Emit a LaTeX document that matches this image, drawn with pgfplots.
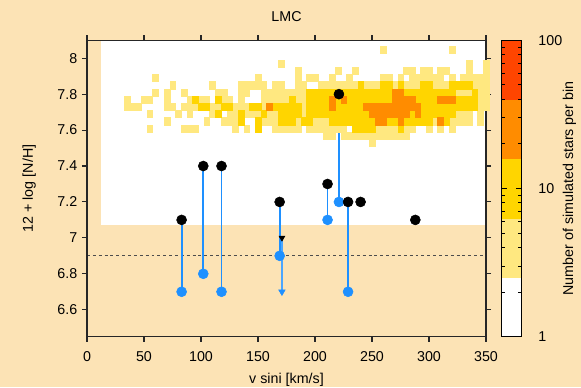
\documentclass[border=0pt]{standalone}
\usepackage{fontspec}
\setmainfont{Liberation Sans}
\usepackage{pgfplots}
\pgfplotsset{compat=1.18}
\definecolor{bgw}{RGB}{252,227,181}
\definecolor{cL}{RGB}{255,232,128}
\definecolor{cG}{RGB}{255,213,0}
\definecolor{cO}{RGB}{255,140,0}
\definecolor{cR}{RGB}{255,69,0}
\definecolor{dblue}{RGB}{30,144,255}
\newcommand{\fs}{\fontsize{10.7}{12.8}\selectfont}
\begin{document}
\begin{tikzpicture}
\fill[bgw] (-65.25pt,-37.75pt) rectangle (370.5pt,252.5pt);
\begin{axis}[
  scale only axis, width=299.25pt, height=222.3pt,
  xmin=0, xmax=350, ymin=6.45, ymax=8.1,
  xtick={0,50,100,150,200,250,300,350},
  xticklabels={0,50,100,150,200,250,300,350},
  ytick={6.6,6.8,7,7.2,7.4,7.6,7.8,8},
  yticklabels={6.6,6.8,7,7.2,7.4,7.6,7.8,8},
  /pgf/number format/assume math mode=true,
  tick align=outside, major tick length=3.75pt,
  every tick/.style={black!85, line width=0.8pt},
  axis line style={black!85, line width=1pt},
  axis background/.style={fill=bgw},
  axis on top,
  tick label style={font=\fs},
  xticklabel style={yshift=-3.5pt},
  label style={font=\fs},
  title={LMC},
  title style={font=\fs, at={(axis description cs:0.5,1.052)}, anchor=center},
  xlabel={v sini [km/s]},
  xlabel style={at={(axis description cs:0.5,-0.145)}, anchor=center},
  ylabel={12 + log [N/H]},
  ylabel style={at={(axis description cs:-0.145,0.5)}, anchor=center},
  colormap={lmc}{color(0)=(white) color(0.4)=(cL) color(0.8)=(cG) color(1.2)=(cO) color(1.6)=(cR) color(2)=(cR)},
  colormap access=piecewise constant,
  point meta min=0, point meta max=2,
  colorbar,
  colorbar style={
    at={(parent axis.north east)}, anchor=north west, xshift=3pt,
    scale only axis, width=15pt, height=222.3pt,
    ytick={0,1,2}, yticklabels={1,10,100},
    minor ytick={0.30103,0.47712,0.60206,0.69897,0.77815,0.84510,0.90309,0.95424,1.30103,1.47712,1.60206,1.69897,1.77815,1.84510,1.90309,1.95424},
    tick align=inside,
    ytick pos=both,
    yticklabel pos=right,
    major tick length=4pt, minor tick length=2.8pt,
    every tick/.style={black, line width=0.6pt},
    axis line style={black, line width=1pt},
    yticklabel style={font=\fs, xshift=9.25pt, anchor=west},
    ylabel={Number of simulated stars per bin},
    every axis y label/.style={at={(axis description cs:3.4,0.5)}, rotate=90, anchor=center, font=\fs},
  },
]
% histogram domain (white)
\addplot[fill=white, draw=none, forget plot] coordinates {(12.5,7.07) (360,7.07) (360,8.3) (12.5,8.3)} -- cycle;
% light yellow cells
\addplot[only marks, mark=square*, mark size=2.14pt, mark options={draw=cL, fill=cL, line width=0.15pt, yscale=1.2606}] coordinates {
(260,8.05) (320,8.05)
(170,7.97) (335,7.97) (350,7.97)
(185,7.93) (220,7.93) (235,7.93) (280,7.93) (285,7.93) (295,7.93) (300,7.93) (310,7.93) (315,7.93) (335,7.93) (350,7.93)
(60,7.89) (150,7.89) (185,7.89) (195,7.89) (200,7.89) (215,7.89) (230,7.89) (260,7.89) (265,7.89) (275,7.89) (285,7.89) (290,7.89) (295,7.89) (300,7.89) (305,7.89) (310,7.89) (320,7.89) (330,7.89) (335,7.89) (340,7.89) (345,7.89) (350,7.89)
(75,7.85) (110,7.85) (135,7.85) (140,7.85) (145,7.85) (150,7.85) (155,7.85) (165,7.85) (170,7.85) (185,7.85) (190,7.85) (205,7.85) (210,7.85) (215,7.85) (220,7.85) (225,7.85) (230,7.85) (235,7.85) (245,7.85) (250,7.85) (255,7.85) (270,7.85) (280,7.85) (285,7.85) (290,7.85) (305,7.85) (310,7.85) (315,7.85) (340,7.85) (345,7.85) (350,7.85)
(60,7.81) (70,7.81) (85,7.81) (115,7.81) (120,7.81) (135,7.81) (140,7.81) (155,7.81) (160,7.81) (165,7.81) (170,7.81) (175,7.81) (180,7.81) (185,7.81) (190,7.81) (325,7.81) (330,7.81) (335,7.81) (345,7.81) (350,7.81)
(35,7.77) (50,7.77) (55,7.77) (70,7.77) (90,7.77) (100,7.77) (105,7.77) (120,7.77) (125,7.77) (135,7.77) (155,7.77) (160,7.77) (165,7.77) (170,7.77) (175,7.77) (185,7.77) (190,7.77) (345,7.77) (350,7.77)
(35,7.73) (40,7.73) (45,7.73) (70,7.73) (75,7.73) (85,7.73) (90,7.73) (95,7.73) (110,7.73) (115,7.73) (130,7.73) (135,7.73) (140,7.73) (155,7.73) (190,7.73) (345,7.73) (350,7.73)
(55,7.69) (80,7.69) (90,7.69) (110,7.69) (125,7.69) (130,7.69) (140,7.69) (145,7.69) (150,7.69) (160,7.69) (165,7.69) (190,7.69) (325,7.69) (330,7.69) (335,7.69) (345,7.69)
(70,7.65) (105,7.65) (120,7.65) (125,7.65) (130,7.65) (155,7.65) (160,7.65) (165,7.65) (185,7.65) (200,7.65) (205,7.65) (210,7.65) (305,7.65) (320,7.65) (325,7.65) (330,7.65) (335,7.65) (345,7.65)
(55,7.61) (85,7.61) (90,7.61) (95,7.61) (130,7.61) (140,7.61) (165,7.61) (170,7.61) (175,7.61) (180,7.61) (185,7.61) (195,7.61) (200,7.61) (205,7.61) (210,7.61) (215,7.61) (220,7.61) (225,7.61) (255,7.61) (260,7.61) (265,7.61) (270,7.61) (280,7.61) (285,7.61) (300,7.61) (310,7.61) (320,7.61)
(210,7.57) (215,7.57) (225,7.57) (230,7.57) (235,7.57) (240,7.57) (245,7.57) (250,7.57) (255,7.57) (260,7.57) (265,7.57) (270,7.57) (275,7.57) (280,7.57)
(250,7.53)
};
% gold cells
\addplot[only marks, mark=square*, mark size=2.14pt, mark options={draw=cG, fill=cG, line width=0.15pt, yscale=1.2606}] coordinates {
(240,7.85) (260,7.85) (265,7.85) (275,7.85) (295,7.85) (300,7.85) (320,7.85) (325,7.85) (330,7.85) (335,7.85)
(195,7.81) (200,7.81) (205,7.81) (210,7.81) (215,7.81) (220,7.81) (225,7.81) (230,7.81) (235,7.81) (240,7.81) (245,7.81) (250,7.81) (255,7.81) (260,7.81) (265,7.81) (280,7.81) (285,7.81) (290,7.81) (295,7.81) (300,7.81) (305,7.81) (310,7.81) (315,7.81) (320,7.81) (340,7.81)
(95,7.77) (115,7.77) (180,7.77) (195,7.77) (200,7.77) (205,7.77) (210,7.77) (220,7.77) (230,7.77) (235,7.77) (240,7.77) (245,7.77) (250,7.77) (255,7.77) (260,7.77) (265,7.77) (290,7.77) (295,7.77) (300,7.77) (305,7.77) (325,7.77) (330,7.77) (335,7.77) (340,7.77)
(100,7.73) (105,7.73) (120,7.73) (125,7.73) (145,7.73) (150,7.73) (165,7.73) (170,7.73) (175,7.73) (180,7.73) (185,7.73) (195,7.73) (200,7.73) (205,7.73) (210,7.73) (220,7.73) (225,7.73) (230,7.73) (235,7.73) (240,7.73) (295,7.73) (300,7.73) (305,7.73) (310,7.73) (315,7.73) (320,7.73) (325,7.73) (330,7.73) (335,7.73) (340,7.73)
(115,7.69) (135,7.69) (155,7.69) (170,7.69) (175,7.69) (180,7.69) (185,7.69) (195,7.69) (200,7.69) (205,7.69) (210,7.69) (215,7.69) (220,7.69) (225,7.69) (230,7.69) (235,7.69) (240,7.69) (245,7.69) (285,7.69) (295,7.69) (300,7.69) (305,7.69) (310,7.69) (315,7.69) (320,7.69)
(135,7.65) (150,7.65) (170,7.65) (175,7.65) (180,7.65) (190,7.65) (195,7.65) (215,7.65) (220,7.65) (225,7.65) (230,7.65) (235,7.65) (240,7.65) (245,7.65) (250,7.65) (265,7.65) (270,7.65) (280,7.65) (285,7.65) (290,7.65) (295,7.65) (300,7.65) (315,7.65)
(150,7.61) (235,7.61) (240,7.61) (245,7.61) (250,7.61) (275,7.61)
};
% orange cells
\addplot[only marks, mark=square*, mark size=2.14pt, mark options={draw=cO, fill=cO, line width=0.15pt, yscale=1.2606}] coordinates {
(270,7.81) (275,7.81)
(215,7.77) (225,7.77) (270,7.77) (275,7.77) (280,7.77) (285,7.77) (310,7.77) (315,7.77) (320,7.77)
(160,7.73) (215,7.73) (245,7.73) (250,7.73) (255,7.73) (260,7.73) (265,7.73) (270,7.73) (275,7.73) (280,7.73) (285,7.73) (290,7.73)
(250,7.69) (255,7.69) (260,7.69) (265,7.69) (270,7.69) (275,7.69) (280,7.69) (290,7.69)
(255,7.65) (260,7.65) (275,7.65) (310,7.65)
};
% detection limit
\addplot[black!70, line width=0.8pt, dash pattern=on 2.2pt off 2.2pt] coordinates {(0,6.9) (350,6.9)};
% connecting lines
\addplot[color=dblue, line width=1.4pt] coordinates {(83,7.1) (83,6.7)};
\addplot[color=dblue, line width=1.4pt] coordinates {(102,7.4) (102,6.8)};
\addplot[color=dblue, line width=1.4pt] coordinates {(118,7.4) (118,6.7)};
\addplot[color=dblue, line width=1.4pt] coordinates {(169,7.2) (169,6.9)};
\addplot[color=dblue, line width=1.4pt] coordinates {(211,7.3) (211,7.1)};
\addplot[color=dblue, line width=1.4pt] coordinates {(221,7.8) (221,7.2)};
\addplot[color=dblue, line width=1.4pt] coordinates {(229,7.2) (229,6.7)};
% upper-limit arrow
\addplot[color=dblue!80, line width=1.4pt] coordinates {(171,6.995) (171,6.71)};
\addplot[only marks, mark=triangle*, mark size=2.8pt, mark options={fill=dblue, draw=dblue, rotate=180}] coordinates {(171,6.70)};
\addplot[only marks, mark=triangle*, mark size=2.5pt, mark options={fill=black, draw=black, rotate=180}] coordinates {(171,7.0)};
% blue points
\addplot[only marks, mark=*, mark size=3.75pt, mark options={fill=dblue, draw=dblue}] coordinates {
(83,6.7) (102,6.8) (118,6.7) (169,6.9) (211,7.1) (221,7.2) (229,6.7)};
% black points
\addplot[only marks, mark=*, mark size=3.75pt, mark options={fill=black, draw=black}] coordinates {
(83,7.1) (102,7.4) (118,7.4) (169,7.2) (211,7.3) (221,7.8) (229,7.2) (240,7.2) (288,7.1)};
\end{axis}
\pgfresetboundingbox
\path[use as bounding box] (-65.25pt,-37.75pt) rectangle (370.5pt,252.5pt);
\end{tikzpicture}
\end{document}
